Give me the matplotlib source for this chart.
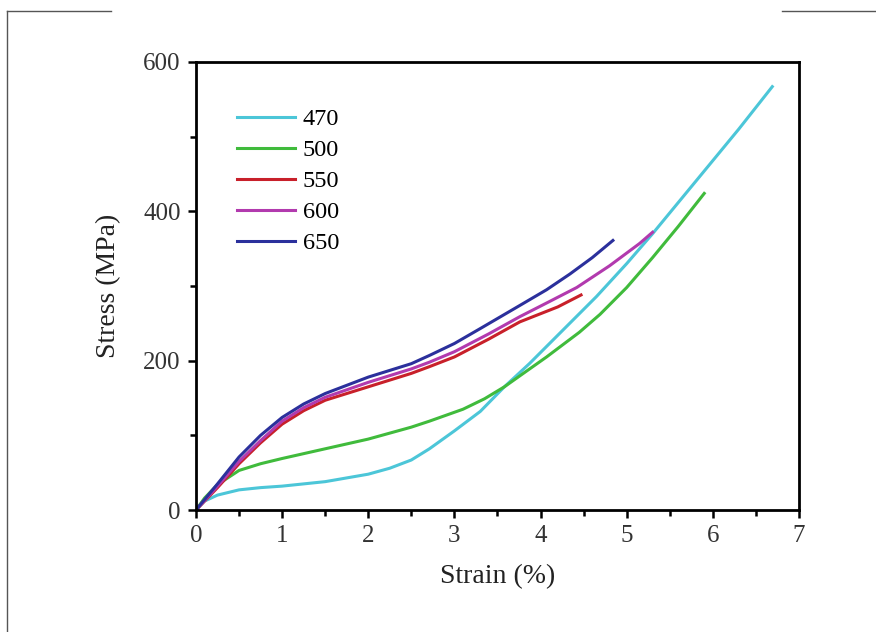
import matplotlib
matplotlib.use("Agg")
import matplotlib.pyplot as plt
from matplotlib.lines import Line2D
from matplotlib.ticker import MultipleLocator

plt.rcParams['font.family'] = ['Liberation Serif', 'DejaVu Serif']

# strain (%) / stress (MPa)
strain_470 = [0, 0.1, 0.25, 0.5, 0.75, 1.0, 1.5, 2.0, 2.25, 2.5, 2.71, 3.0, 3.3, 3.58, 3.87, 4.26, 4.65, 5.0, 5.3, 5.85, 6.3, 6.69]
stress_470 = [0, 12, 20, 27, 30, 32, 38, 48, 56, 67, 82, 106, 132, 165, 196, 241, 286, 330, 370, 447, 510, 567]

strain_500 = [0, 0.1, 0.25, 0.5, 0.75, 1.0, 1.5, 2.0, 2.5, 2.71, 3.1, 3.35, 3.58, 3.8, 4.07, 4.45, 4.69, 5.0, 5.3, 5.6, 5.9]
stress_500 = [0, 16, 34, 53, 62, 69, 82, 95, 111, 119, 135, 149, 165, 183, 205, 238, 262, 298, 338, 380, 424]

strain_550 = [0, 0.25, 0.5, 0.75, 1.0, 1.25, 1.5, 2.0, 2.5, 2.71, 3.0, 3.4, 3.76, 4.2, 4.47]
stress_550 = [0, 30, 62, 90, 115, 133, 147, 165, 183, 192, 205, 229, 252, 272, 288]

strain_600 = [0, 0.25, 0.5, 0.75, 1.0, 1.25, 1.5, 2.0, 2.5, 2.71, 3.0, 3.4, 3.76, 4.1, 4.42, 4.8, 5.15, 5.3]
stress_600 = [0, 32, 65, 93, 119, 137, 151, 171, 189, 198, 212, 236, 259, 279, 298, 327, 357, 372]

strain_650 = [0, 0.25, 0.5, 0.75, 1.0, 1.25, 1.5, 2.0, 2.5, 2.71, 3.0, 3.3, 3.76, 4.07, 4.34, 4.6, 4.84]
stress_650 = [0, 35, 71, 100, 124, 142, 156, 178, 196, 207, 223, 243, 274, 295, 316, 338, 361]

labels = ['470', '500', '550', '600', '650']
colors = ['#4cc6d8', '#40bb3c', '#c8202a', '#b23aae', '#2b309c']

fig = plt.figure(figsize=(8.76, 6.32), dpi=100)
ax = fig.add_axes([0.2237, 0.193, 0.6884, 0.7089])

series = [(strain_470, stress_470), (strain_500, stress_500), (strain_550, stress_550),
          (strain_600, stress_600), (strain_650, stress_650)]
for (x, y), lab, c in zip(series, labels, colors):
    ax.plot(x, y, color=c, lw=2.2, label=lab)

ax.set_xlim(0, 7)
ax.set_ylim(0, 600)
ax.xaxis.set_major_locator(MultipleLocator(1))
ax.xaxis.set_minor_locator(MultipleLocator(0.5))
ax.yaxis.set_major_locator(MultipleLocator(200))
ax.yaxis.set_minor_locator(MultipleLocator(100))
ax.tick_params(which='major', direction='out', length=6, width=1.8, labelsize=18, pad=5,
               colors='black', labelcolor='#333333')
ax.tick_params(which='minor', direction='out', length=4.5, width=1.8)
for sp in ax.spines.values():
    sp.set_linewidth(2.0)

ax.set_xlabel('Strain (%)', fontsize=20, color='#222222', labelpad=12)
ax.set_ylabel('Stress (MPa)', fontsize=20, color='#222222', labelpad=16)

ax.legend(loc='upper left', bbox_to_anchor=(0.068, 0.897), frameon=False, fontsize=17.5,
          handlelength=2.4, handletextpad=0.3, labelspacing=0.37, borderpad=0, borderaxespad=0)

# partial page border
for xs, ys in [([7, 111], [11, 11]), ([7, 7], [11, 632]), ([782, 876], [11, 11])]:
    fig.add_artist(Line2D([v / 876 for v in xs], [1 - v / 632 for v in ys],
                          color='#555555', lw=1.0, transform=fig.transFigure))

fig.savefig('out.png', dpi=100)
